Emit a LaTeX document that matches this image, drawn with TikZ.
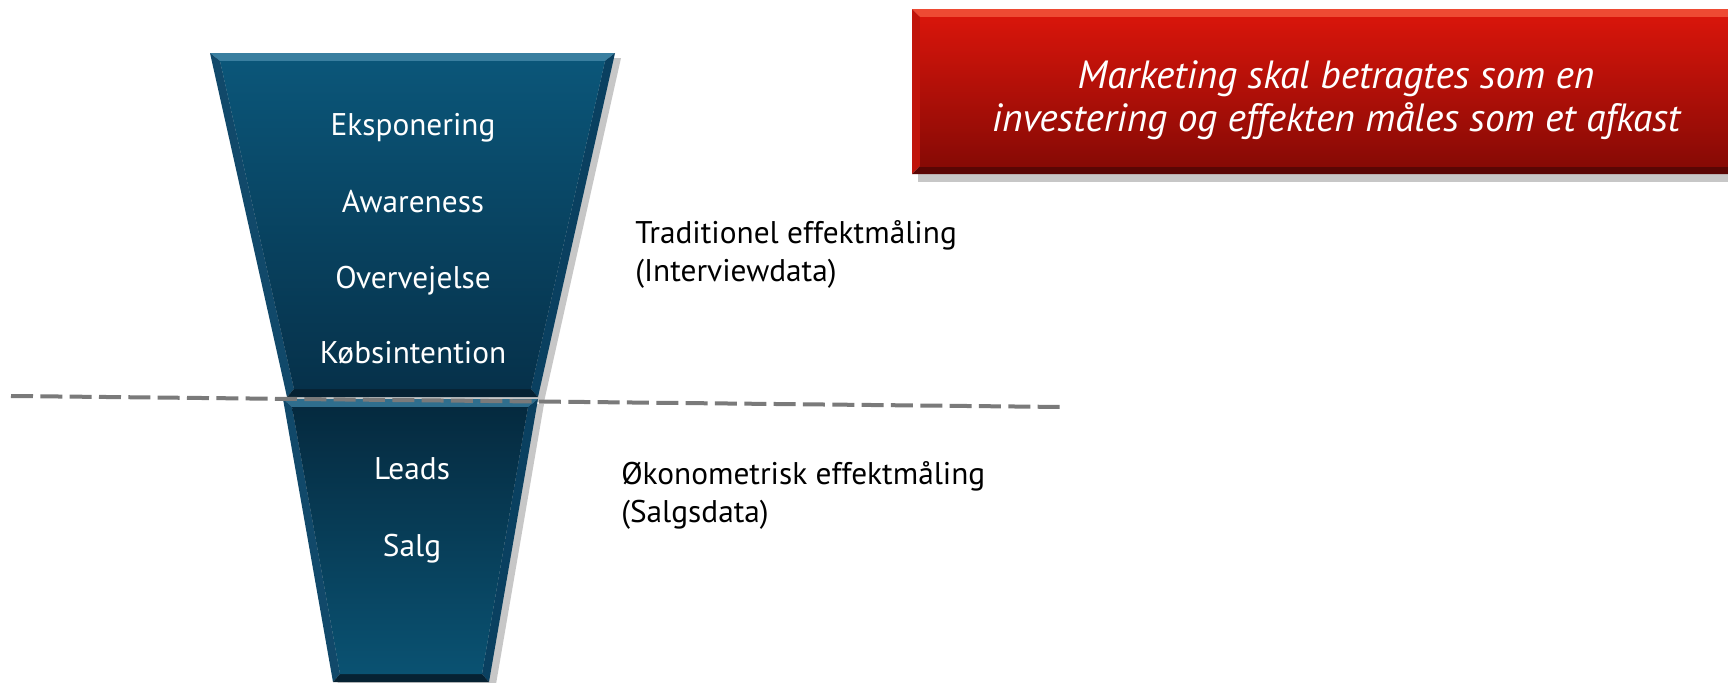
\documentclass[tikz,border=0pt]{standalone}
\usepackage{fontspec}
\setmainfont{PT Sans}
\usetikzlibrary{positioning}
\definecolor{fdark}{HTML}{06314A}
\definecolor{ftop}{HTML}{0B5679}
\definecolor{ldark}{HTML}{052A3F}
\definecolor{lbot}{HTML}{0A5272}
\definecolor{bevlight}{HTML}{3A7FA0}
\definecolor{bevside}{HTML}{11496A}
\definecolor{bevright}{HTML}{0A4060}
\definecolor{bevbot}{HTML}{062233}
\definecolor{rtop}{HTML}{D8150B}
\definecolor{rbot}{HTML}{870A05}
\definecolor{rlight}{HTML}{EE4A33}
\definecolor{rside}{HTML}{C0140A}
\definecolor{rdark}{HTML}{5A0604}
\definecolor{dashgray}{HTML}{7A7A7A}
\tikzset{
  funneltext/.style={text=white, font=\fontsize{23.5}{27}\selectfont, inner sep=0pt, anchor=base},
  sidetext/.style={text=black, font=\fontsize{23.5}{28.5}\selectfont, inner sep=0pt, align=left, anchor=west},
  redtext/.style={text=white, font=\itshape\fontsize{29.5}{32.5}\selectfont, inner sep=0pt, align=center},
  divider/.style={draw=dashgray, line width=3pt, dash pattern=on 16.5pt off 5.5pt},
  shadowfill/.style={fill=black, opacity=0.22}
}
\begin{document}
\begin{tikzpicture}[x=0.75pt,y=-0.75pt]
\clip (0,0) rectangle (1728,682);
\fill[white] (0,0) rectangle (1728,682);

% ---------- upper funnel ----------
\fill[shadowfill] (216,58) -- (621,58) -- (544,402) -- (293,402) -- cycle;
\fill[bevlight] (210,53) -- (615,53) -- (605,61) -- (220,61) -- cycle;
\fill[bevside] (210,53) -- (220,61) -- (294,389) -- (287,397) -- cycle;
\fill[bevright] (615,53) -- (538,397) -- (531,389) -- (605,61) -- cycle;
\fill[bevbot] (287,397) -- (294,389) -- (531,389) -- (538,397) -- cycle;
\shade[top color=ftop, bottom color=fdark] (220,61) -- (605,61) -- (531,389) -- (294,389) -- cycle;

% ---------- lower funnel ----------
\fill[shadowfill] (289,404) -- (544,404) -- (495,690) -- (339,690) -- cycle;
\fill[bevlight!80!ldark] (283,399) -- (538,399) -- (528,407) -- (292,407) -- cycle;
\fill[bevside] (283,399) -- (292,407) -- (340,674) -- (333,682) -- cycle;
\fill[bevright] (538,399) -- (489,682) -- (482,674) -- (528,407) -- cycle;
\fill[bevbot] (333,682) -- (340,674) -- (482,674) -- (489,682) -- cycle;
\shade[top color=ldark, bottom color=lbot] (292,407) -- (528,407) -- (482,674) -- (340,674) -- cycle;

% ---------- funnel labels ----------
\node[funneltext] (eksp) at (413,135) {Eksponering};
\node[funneltext] (aware) at (413,212) {Awareness};
\node[funneltext] (overv) at (413,288) {Overvejelse};
\node[funneltext] (kob) at (413,363) {Købsintention};
\node[funneltext] (leads) at (412,479) {Leads};
\node[funneltext] (salg) at (412,556) {Salg};

% ---------- side labels ----------
\node[sidetext] (trad) at (635,254) {Traditionel effektmåling\\(Interviewdata)};
\node[sidetext] (okon) at (621,495) {Økonometrisk effektmåling\\(Salgsdata)};

% ---------- divider ----------
\coordinate (dl) at (11,396);
\coordinate (dr) at (1063,407);
\draw[divider] (dl) -- (dr);

% ---------- red box ----------
\fill[shadowfill] (918,16) rectangle (1740,182);
\fill[rlight] (912,9) -- (1740,9) -- (1740,17) -- (920,17) -- cycle;
\fill[rside] (912,9) -- (920,17) -- (920,166) -- (912,174) -- cycle;
\fill[rdark] (912,174) -- (920,166) -- (1740,166) -- (1740,174) -- cycle;
\shade[top color=rtop, bottom color=rbot] (920,17) rectangle (1740,166);
\node[redtext] (msg) at (1336,100) {Marketing skal betragtes som en\\investering og effekten måles som et afkast};
\end{tikzpicture}
\end{document}
